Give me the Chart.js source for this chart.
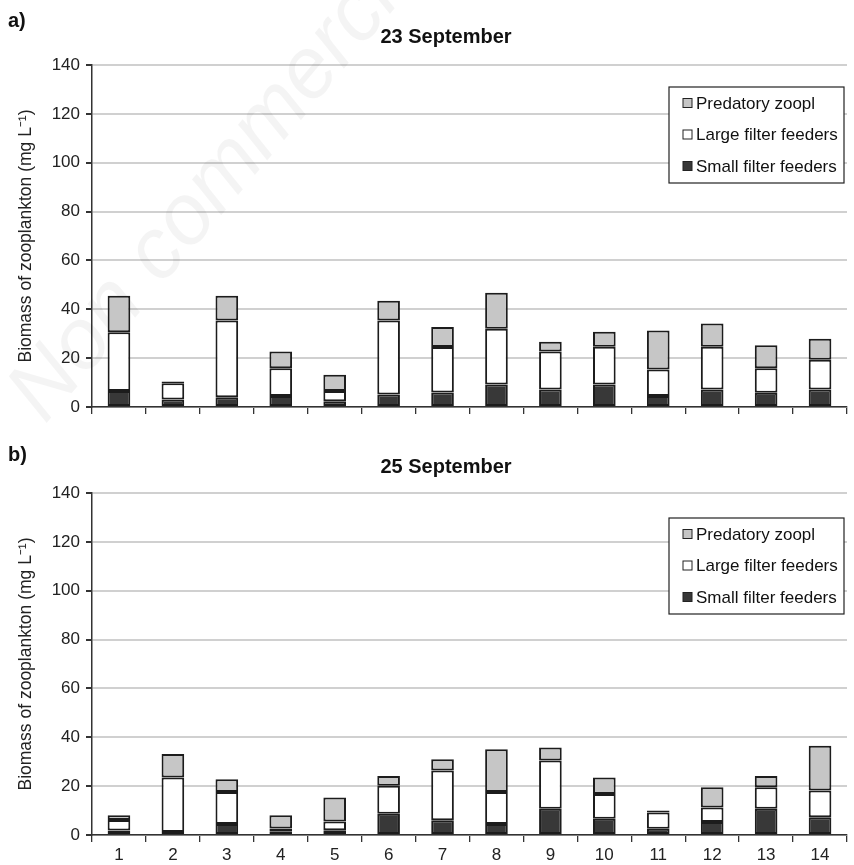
<!DOCTYPE html>
<html>
<head>
<meta charset="utf-8">
<script src="https://cdn.jsdelivr.net/npm/chart.js@4.4.1/dist/chart.umd.min.js"></script>
<style>
  body { margin:0; background:#fff; width:854px; height:865px; position:relative; overflow:hidden; font-family:"Liberation Sans", Arial, sans-serif; }
  .panel { position:absolute; left:0; width:854px; }
  .tag { position:absolute; left:8px; font-weight:bold; font-size:20px; color:#111; }
  .ttl { position:absolute; left:346px; width:200px; text-align:center; font-weight:bold; font-size:20px; color:#111; z-index:2; }
</style>
</head>
<body>
<div class="panel" style="top:0; height:428px"><canvas id="chartA" width="854" height="428"></canvas></div>
<div class="panel" style="top:428px; height:437px"><canvas id="chartB" width="854" height="437"></canvas></div>
<div class="tag" style="top:9px">a)</div>
<div class="tag" style="top:443px">b)</div>
<div class="ttl" style="top:25px">23 September</div>
<div class="ttl" style="top:455px">25 September</div>
<script>
// sites along the x axis
const sites = ['1','2','3','4','5','6','7','8','9','10','11','12','13','14'];
const seriesNames = ['Small filter feeders', 'Large filter feeders', 'Predatory zoopl'];

// a) 23 September, mg L-1
const small_23 = [6.5, 3.1, 4.0, 4.5, 2.4, 5.1, 5.9, 9.2, 7.2, 9.2, 4.5, 7.2, 5.8, 7.2];
const large_23 = [24.1, 6.6, 31.4, 11.4, 4.1, 30.3, 18.7, 22.8, 15.5, 15.5, 10.8, 17.5, 10.1, 12.1];
const pred_23  = [14.9, 0.7, 10.1, 6.8, 6.7, 8.1, 8.1, 14.8, 4.0, 6.1, 16.0, 9.5, 9.4, 8.6];

// b) 25 September
const small_25 = [1.8, 1.2, 4.5, 1.3, 1.9, 8.7, 6.0, 4.5, 10.7, 6.7, 2.6, 5.3, 10.7, 7.3];
const large_25 = [4.3, 22.3, 13.1, 1.4, 3.6, 11.5, 20.4, 13.1, 19.8, 10.1, 6.6, 6.0, 8.8, 10.9];
const pred_25  = [2.0, 9.7, 5.2, 5.4, 9.9, 4.0, 4.6, 17.5, 5.3, 6.7, 0.8, 8.2, 4.7, 18.3];

const yTicks = [0, 20, 40, 60, 80, 100, 120, 140];

const fills = ['#383838', '#ffffff', '#c6c6c6'];
const FONT = "'Liberation Sans', Arial, sans-serif";

// legend box drawn inside the plot area (top right)
const boxLegend = {
  id: 'boxLegend',
  afterDraw(chart, args, opts) {
    const ctx = chart.ctx;
    const ca = chart.chartArea;
    const w = 175, h = 96;
    const x = ca.right - 3 - w, y = ca.top + opts.top;
    ctx.save();
    ctx.fillStyle = '#fff';
    ctx.fillRect(x, y, w, h);
    ctx.strokeStyle = '#222';
    ctx.lineWidth = 1.2;
    ctx.strokeRect(x, y, w, h);
    ctx.font = '17px ' + FONT;
    ctx.textBaseline = 'middle';
    const ds = chart.data.datasets.slice().reverse();
    ds.forEach(function(d, i) {
      const ry = y + 16 + i * 31.5;
      ctx.fillStyle = d.backgroundColor;
      ctx.fillRect(x + 14, ry - 4.5, 9, 9);
      ctx.strokeStyle = '#222';
      ctx.lineWidth = 1;
      ctx.strokeRect(x + 14, ry - 4.5, 9, 9);
      ctx.fillStyle = '#111';
      ctx.fillText(d.label, x + 27, ry + 1);
    });
    ctx.restore();
  }
};

// faint diagonal watermark
const watermark = {
  id: 'watermark',
  beforeDatasetsDraw(chart, args, opts) {
    if (!opts.text) return;
    const ctx = chart.ctx;
    ctx.save();
    ctx.translate(45, 425);
    ctx.rotate(-50 * Math.PI / 180);
    ctx.font = 'italic 86px ' + FONT;
    ctx.fillStyle = 'rgba(0,0,0,0.045)';
    ctx.fillText(opts.text, 0, 0);
    ctx.restore();
  }
};

function makeChart(id, small, large, pred, showX, legendTop, mark) {
  const ctx = document.getElementById(id).getContext('2d');
  const values = [small, large, pred];
  const datasets = values.map(function(v, i) {
    return {
      label: seriesNames[i],
      data: v,
      backgroundColor: fills[i],
      borderColor: '#1c1c1c',
      borderWidth: 2,
      borderSkipped: false,
      barPercentage: 0.42,
      categoryPercentage: 1.0
    };
  });
  return new Chart(ctx, {
    type: 'bar',
    data: { labels: sites, datasets: datasets },
    options: {
      responsive: false,
      animation: false,
      layout: { padding: { left: 0, right: 7, top: 65, bottom: 0 } },
      plugins: {
        legend: { display: false },
        tooltip: { enabled: false },
        title: { display: false },
        boxLegend: { top: legendTop },
        watermark: { text: mark }
      },
      scales: {
        x: {
          stacked: true,
          afterFit: function(scale) { scale.height = showX ? 30 : 21; },
          grid: { offset: true, drawOnChartArea: false, tickLength: 7, tickColor: '#333', lineWidth: 1.3 },
          border: { color: '#333', width: 1.5 },
          ticks: {
            color: showX ? '#222' : 'rgba(0,0,0,0)',
            padding: 3,
            font: { family: FONT, size: 17 }
          }
        },
        y: {
          stacked: true,
          min: 0,
          max: 140,
          afterFit: function(scale) { scale.width = 92; },
          afterBuildTicks: function(scale) { scale.ticks = yTicks.map(function(v) { return { value: v }; }); },
          grid: { color: '#d0d0d0', lineWidth: 2, tickLength: 6, tickColor: '#333', drawTicks: true },
          border: { color: '#333', width: 1.5 },
          ticks: { color: '#222', padding: 6, font: { family: FONT, size: 17 } },
          title: {
            display: true,
            text: 'Biomass of zooplankton (mg L\u207B\u00B9)',
            color: '#222',
            font: { family: FONT, size: 17.5 },
            padding: { top: 16, bottom: 0 }
          }
        }
      }
    },
    plugins: [watermark, boxLegend]
  });
}

makeChart('chartA', small_23, large_23, pred_23, false, 22, 'Non commercial');
makeChart('chartB', small_25, large_25, pred_25, true, 25, '');
</script>
</body>
</html>
